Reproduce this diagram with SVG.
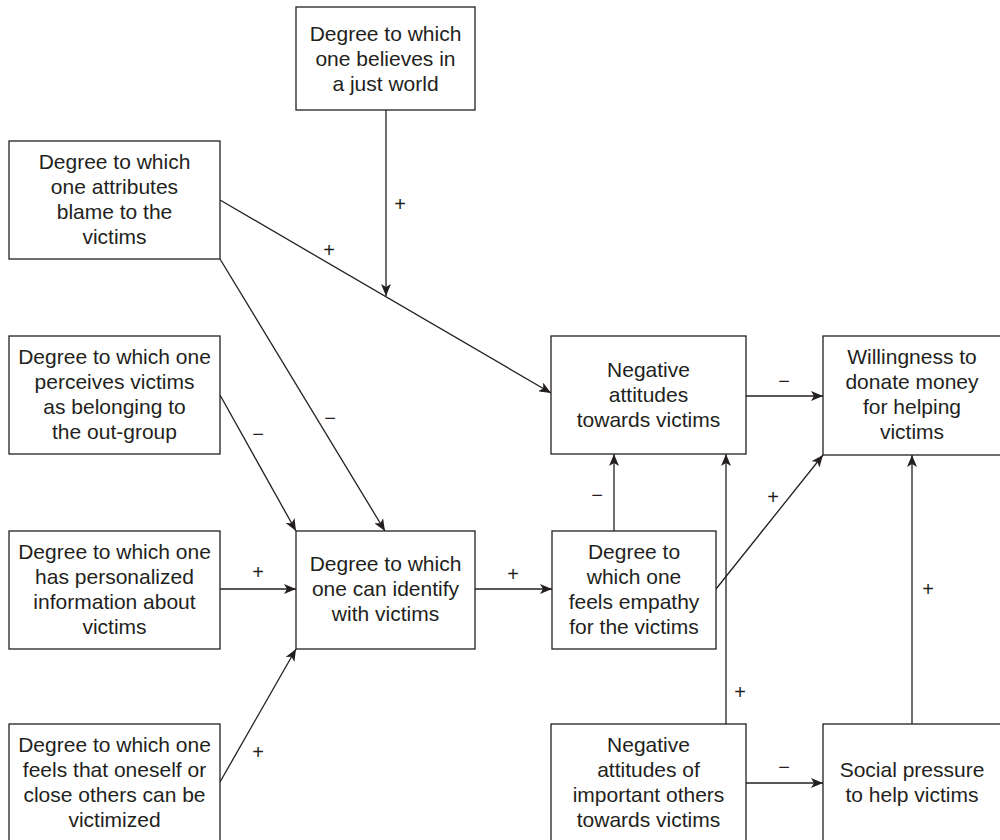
<svg xmlns="http://www.w3.org/2000/svg" width="1000" height="840" viewBox="0 0 1000 840">
<style>
.box rect{fill:#fff;stroke:#231f20;stroke-width:1.3}
.box text{font-family:"Liberation Sans",Arial,sans-serif;font-size:21px;fill:#231f20;text-anchor:middle}
.conn path{fill:none;stroke:#231f20;stroke-width:1.3}
.lbl{font-family:"Liberation Sans",Arial,sans-serif;font-size:20px;font-weight:300;fill:#231f20;text-anchor:middle}
</style>
<defs>
<marker id="ah" viewBox="0 0 12 10" refX="12" refY="5" markerWidth="12" markerHeight="10" markerUnits="userSpaceOnUse" orient="auto">
<path d="M0,0 L12,5 L0,10 L3,5 z" fill="#231f20"/>
</marker>
</defs>
<rect width="1000" height="840" fill="#fff"/>

<g class="conn">
<path d="M386,110 V296" marker-end="url(#ah)"/>
<path d="M220,200 L551,393" marker-end="url(#ah)"/>
<path d="M220,259 L385,531" marker-end="url(#ah)"/>
<path d="M220,395 L296,531" marker-end="url(#ah)"/>
<path d="M220,589 H296" marker-end="url(#ah)"/>
<path d="M220,782 L296,649" marker-end="url(#ah)"/>
<path d="M475,589 H552" marker-end="url(#ah)"/>
<path d="M614,531 V454" marker-end="url(#ah)"/>
<path d="M716,589 L823,455" marker-end="url(#ah)"/>
<path d="M726,724 V454" marker-end="url(#ah)"/>
<path d="M746,396 H823" marker-end="url(#ah)"/>
<path d="M746,783 H823" marker-end="url(#ah)"/>
<path d="M912,724 V455" marker-end="url(#ah)"/>
<text class="lbl" x="400" y="211">+</text>
<text class="lbl" x="329" y="257">+</text>
<text class="lbl" x="330" y="425">−</text>
<text class="lbl" x="258" y="441">−</text>
<text class="lbl" x="258" y="579">+</text>
<text class="lbl" x="258" y="759">+</text>
<text class="lbl" x="513" y="581">+</text>
<text class="lbl" x="597" y="502">−</text>
<text class="lbl" x="773" y="504">+</text>
<text class="lbl" x="784" y="388">−</text>
<text class="lbl" x="740" y="699">+</text>
<text class="lbl" x="784" y="774">−</text>
<text class="lbl" x="928" y="596">+</text>
</g>

<g id="just-world" class="box">
<rect x="296" y="7" width="179" height="103"/>
<text x="385.5" y="41">Degree to which</text>
<text x="385.5" y="66">one believes in</text>
<text x="385.5" y="91">a just world</text>
</g>

<g id="blame" class="box">
<rect x="9" y="141" width="211" height="118"/>
<text x="114.5" y="169">Degree to which</text>
<text x="114.5" y="194">one attributes</text>
<text x="114.5" y="219">blame to the</text>
<text x="114.5" y="244">victims</text>
</g>

<g id="outgroup" class="box">
<rect x="9" y="336" width="211" height="118"/>
<text x="114.5" y="364">Degree to which one</text>
<text x="114.5" y="389">perceives victims</text>
<text x="114.5" y="414">as belonging to</text>
<text x="114.5" y="439">the out-group</text>
</g>

<g id="personalized" class="box">
<rect x="9" y="531" width="211" height="118"/>
<text x="114.5" y="559">Degree to which one</text>
<text x="114.5" y="584">has personalized</text>
<text x="114.5" y="609">information about</text>
<text x="114.5" y="634">victims</text>
</g>

<g id="victimized" class="box">
<rect x="9" y="724" width="211" height="120"/>
<text x="114.5" y="752">Degree to which one</text>
<text x="114.5" y="777">feels that oneself or</text>
<text x="114.5" y="802">close others can be</text>
<text x="114.5" y="827">victimized</text>
</g>

<g id="identify" class="box">
<rect x="296" y="531" width="179" height="118"/>
<text x="385.5" y="571">Degree to which</text>
<text x="385.5" y="596">one can identify</text>
<text x="385.5" y="621">with victims</text>
</g>

<g id="empathy" class="box">
<rect x="552" y="531" width="164" height="118"/>
<text x="634" y="559">Degree to</text>
<text x="634" y="584">which one</text>
<text x="634" y="609">feels empathy</text>
<text x="634" y="634">for the victims</text>
</g>

<g id="negative-attitudes" class="box">
<rect x="551" y="336" width="195" height="118"/>
<text x="648.5" y="377">Negative</text>
<text x="648.5" y="402">attitudes</text>
<text x="648.5" y="427">towards victims</text>
</g>

<g id="willingness" class="box">
<rect x="823" y="336" width="180" height="119"/>
<text x="912" y="364">Willingness to</text>
<text x="912" y="389">donate money</text>
<text x="912" y="414">for helping</text>
<text x="912" y="439">victims</text>
</g>

<g id="others" class="box">
<rect x="551" y="724" width="195" height="120"/>
<text x="648.5" y="752">Negative</text>
<text x="648.5" y="777">attitudes of</text>
<text x="648.5" y="802">important others</text>
<text x="648.5" y="827">towards victims</text>
</g>

<g id="social-pressure" class="box">
<rect x="823" y="724" width="180" height="120"/>
<text x="912" y="777">Social pressure</text>
<text x="912" y="802">to help victims</text>
</g>
</svg>
